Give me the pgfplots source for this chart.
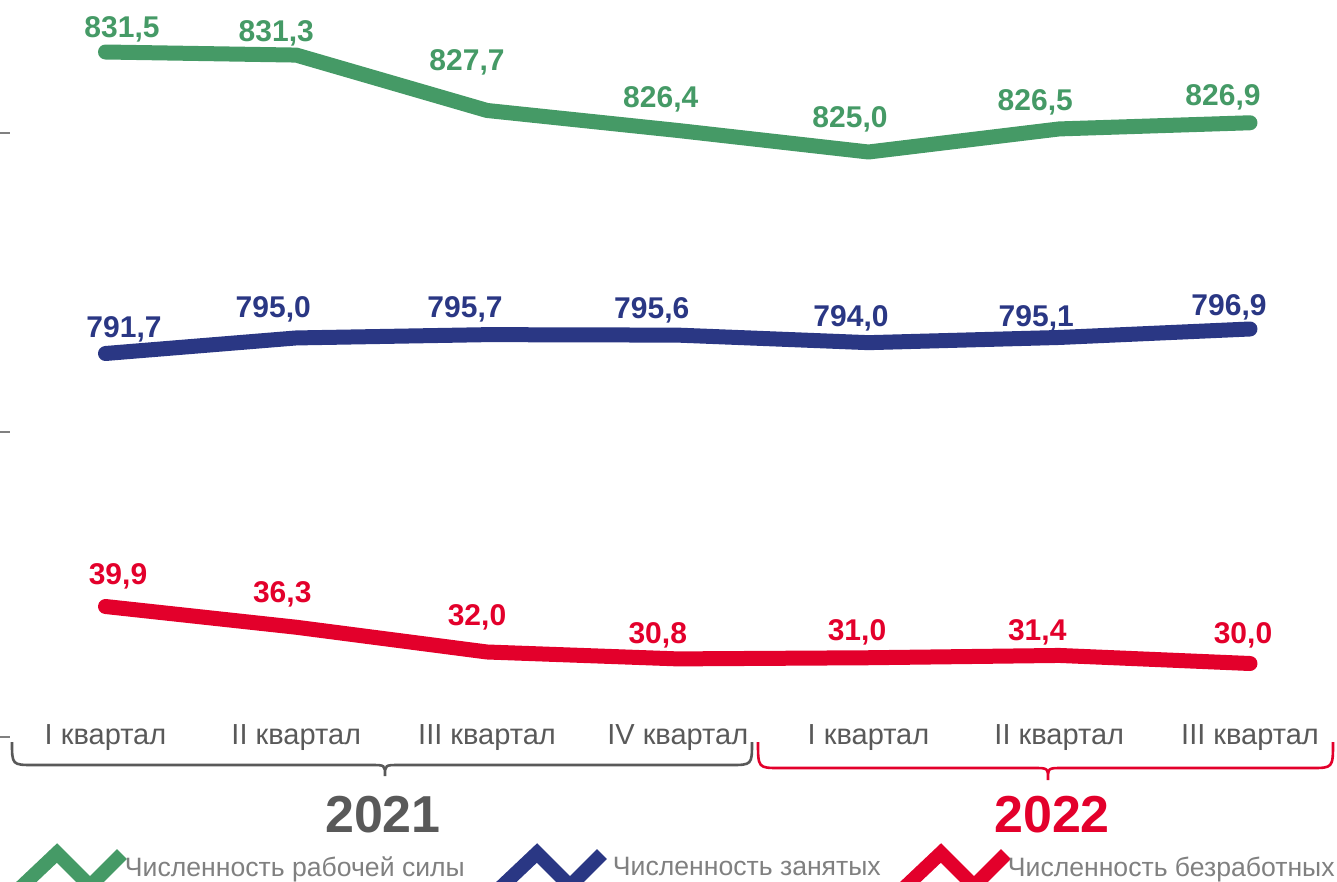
\documentclass[border=0pt]{standalone}
\usepackage{pgfplots}
\usepackage{pgfplotstable}
\pgfplotsset{compat=1.18}
\usepackage{fontspec}
\setmainfont{Liberation Sans}
\definecolor{cgreen}{HTML}{459A66}
\definecolor{cblue}{HTML}{2A3784}
\definecolor{cred}{HTML}{E3002B}
\definecolor{cgray}{HTML}{595959}
\definecolor{clgray}{HTML}{808080}

\pgfplotstableread{
x y dx dy l
0 831.5 16.5 25 831,5
1 831.3 -20 24 831,3
2 827.7 -20 50.5 827,7
3 826.4 -17 33.5 826,4
4 825.0 -18.5 35 825,0
5 826.5 -24 29 826,5
6 826.9 -27 28 826,9
}\tgreen
\pgfplotstableread{
x y dx dy l
0 791.7 18.5 26.5 791,7
1 795.0 -23 30.5 795,0
2 795.7 -22 27.7 795,7
3 795.6 -26 27 795,6
4 794.0 -17.5 26.7 794,0
5 795.1 -23 21.5 795,1
6 796.9 -21 24 796,9
}\tblue
\pgfplotstableread{
x y dx dy l
0 39.9 12.5 32.5 39,9
1 36.3 -14 35 36,3
2 32.0 -10 37 32,0
3 30.8 -20 26 30,8
4 31.0 -11.5 27.8 31,0
5 31.4 -22 25.5 31,4
6 30.0 -7 30.5 30,0
}\tred

\pgfplotsset{
  series/.style={
    scale only axis, width=667.625pt, height=368.5pt,
    at={(5.0625pt,0pt)}, anchor=north west,
    xmin=-0.5, xmax=6.5, clip=false,
    axis line style={draw=none}, xtick=\empty, ytick=\empty,
    nodes near coords, point meta=explicit symbolic,
    visualization depends on={\thisrow{dx} \as \dx},
    visualization depends on={\thisrow{dy} \as \dy},
    every node near coord/.append style={anchor=center, inner sep=0pt, text depth=0pt,
      font=\bfseries\fontsize{15}{18}\selectfont, xshift={\dx*0.5pt}, yshift={\dy*0.5pt}},
    legend image code/.code={\draw[##1, line width=7pt, line cap=butt, line join=miter]
      (0pt,-10pt) -- (18.5pt,7.5pt) -- (35pt,-9pt) -- (51pt,7pt);},
    legend style={draw=none, fill=none, inner sep=0pt, outer sep=0pt, anchor=base west,
      font=\fontsize{13.3}{16}\selectfont, text=clgray, nodes={inner sep=0pt}},
  },
  sline/.style={line width=7.5pt, line cap=round, line join=round},
}

\begin{document}
\begin{tikzpicture}
\path[use as bounding box] (0pt,0pt) rectangle (668.5pt,-441pt);

% decoration axis in pixel coordinates
\begin{axis}[scale only axis, width=668.5pt, height=441pt, at={(0pt,0pt)}, anchor=north west,
  xmin=0, xmax=1337, ymin=0, ymax=882, y dir=reverse, clip=false,
  axis line style={draw=none}, xtick=\empty, ytick={133,432,737}, yticklabels={},
  ytick pos=left, tick align=inside, major tick length=5pt,
  tick style={clgray, line width=1pt}]
\draw[cgray, line width=1.3pt] (12,742) .. controls (12,765) .. (34,765) -- (371,765)
  .. controls (385,765) .. (385,776) .. controls (385,765) .. (399,765) -- (730,765)
  .. controls (752,765) .. (752,742);
\draw[cred, line width=1.3pt] (758,742) .. controls (758,768) .. (780,768) -- (1034,768)
  .. controls (1048,768) .. (1048,780) .. controls (1048,768) .. (1062,768) -- (1311,768)
  .. controls (1333,768) .. (1333,742);
\node[font=\bfseries\fontsize{26}{30}\selectfont, text=cgray, inner sep=0pt] at (383,815) {2021};
\node[font=\bfseries\fontsize{26}{30}\selectfont, text=cred, inner sep=0pt] at (1052,815) {2022};
\end{axis}

% green series
\begin{axis}[series, ymin=786.976, ymax=834.880,
  every node near coord/.append style={text=cgreen},
  legend style={at={(0.00215,-0.17775)}, /tikz/every odd column/.append style={column sep=-2pt}}]
\addplot[cgreen, sline] table[x=x, y=y, meta=l] {\tgreen};
\addlegendentry{Численность рабочей силы}
\end{axis}

% blue series
\begin{axis}[series, ymin=710.31, ymax=866.72,
  every node near coord/.append style={text=cblue},
  legend style={at={(0.36164,-0.17775)}, /tikz/every odd column/.append style={column sep=2pt}}]
\addplot[cblue, sline] table[x=x, y=y, meta=l] {\tblue};
\addlegendentry{Численность занятых}
\end{axis}

% red series
\begin{axis}[series, ymin=17.235, ymax=145.23,
  every node near coord/.append style={text=cred},
  xtick={0,1,2,3,4,5,6},
  xticklabels={I квартал, II квартал, III квартал, IV квартал, I квартал, II квартал, III квартал},
  major tick length=0pt,
  xticklabel style={anchor=base, yshift=-3.5pt, font=\fontsize{14.5}{17}\selectfont, text=cgray},
  legend style={at={(0.66414,-0.17775)}, /tikz/every odd column/.append style={column sep=-2.5pt}}]
\addplot[cred, sline] table[x=x, y=y, meta=l] {\tred};
\addlegendentry{Численность безработных}
\end{axis}
\end{tikzpicture}
\end{document}
